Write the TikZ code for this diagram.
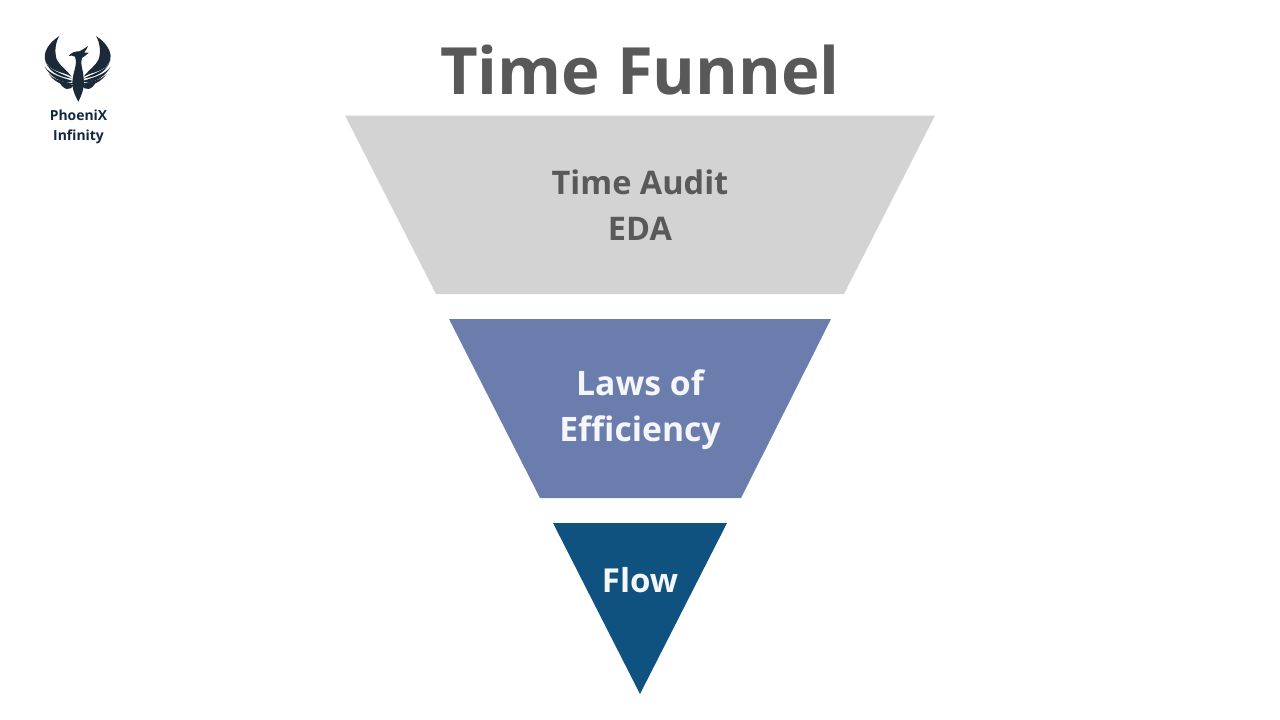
\documentclass[tikz,border=0pt]{standalone}
\usepackage{fontspec}
\setmainfont{Open Sans}
\definecolor{txtgray}{HTML}{595959}
\definecolor{txtwhite}{HTML}{F5F6FA}
\definecolor{lightband}{HTML}{D3D3D3}
\definecolor{midband}{HTML}{6B7DAD}
\definecolor{darkband}{HTML}{0F5280}
\definecolor{logoblue}{HTML}{1B2A38}
\definecolor{brandblue}{HTML}{12283F}
\newcommand{\logowing}{%
	\fill[logoblue] (118,48) .. controls (80,72) and (58,112) .. (88,140) .. controls (110,158) and (135,158) .. (155,170) .. controls (138,148) and (118,136) .. (110,118) .. controls (103,95) and (106,68) .. (118,48) -- cycle;
	\fill[logoblue] (75,122) .. controls (84,150) and (125,160) .. (156,176) .. controls (135,172) and (92,168) .. (75,122) -- cycle;
	\fill[logoblue] (74,140) .. controls (92,165) and (125,172) .. (158,183) .. controls (145,192) and (100,186) .. (74,140) -- cycle;
	\fill[logoblue] (86,162) .. controls (105,182) and (135,186) .. (160,190) .. controls (150,202) and (110,196) .. (86,162) -- cycle;
	\fill[logoblue] (118,186) .. controls (130,194) and (145,194) .. (160,196) .. controls (150,214) and (130,210) .. (118,186) -- cycle;
}
\begin{document}
\begin{tikzpicture}[x=1pt,y=-1pt,
	label/.style={font=\bfseries\fontsize{33}{46}\selectfont,align=center,inner sep=0pt}]
	\useasboundingbox (0,0) rectangle (1280,720);
	\fill[lightband] (345,115.5)--(935,115.5)--(844,294)--(436,294)--cycle;
	\fill[midband] (449,319)--(831,319)--(741,498)--(540,498)--cycle;
	\fill[darkband] (553,523)--(727,523)--(640,694)--cycle;
	\node[font=\bfseries\fontsize{65.2}{70}\selectfont,text=txtgray,inner sep=0pt] (title) at (640,70) {Time Funnel};
	\node[label,font=\bfseries\fontsize{32.5}{46}\selectfont,text=txtgray] (audit) at (640,205) {Time Audit\\EDA};
	\node[label,font=\bfseries\fontsize{33.7}{46}\selectfont,text=txtwhite] (laws) at (640,410) {Laws of\\Efficiency};
	\node[label,text=txtwhite] (flow) at (640,580) {Flow};
	% logo
	\begin{scope}[shift={(20,20)},x=0.3333pt,y=-0.3333pt]
		\logowing
		\begin{scope}[shift={(346,0)},x=-0.3333pt]
			\logowing
		\end{scope}
		\fill[logoblue] (146,108) .. controls (155,96) and (168,94) .. (178,94) .. controls (186,90) and (196,84) .. (204,78) .. controls (200,88) and (196,94) .. (192,98) .. controls (198,98) and (202,98) .. (206,98) .. controls (198,106) and (192,110) .. (186,114) .. controls (180,130) and (188,145) .. (190,165) .. controls (192,185) and (196,205) .. (175,245) .. controls (155,210) and (155,190) .. (160,165) .. controls (165,145) and (172,125) .. (165,110) .. controls (158,106) and (152,106) .. (146,108) -- cycle;
	\end{scope}
	\node[font=\bfseries\fontsize{13.9}{20}\selectfont,text=brandblue,align=center,inner sep=0pt] (brand) at (78.5,127) {PhoeniX\\Infinity};
\end{tikzpicture}
\end{document}
